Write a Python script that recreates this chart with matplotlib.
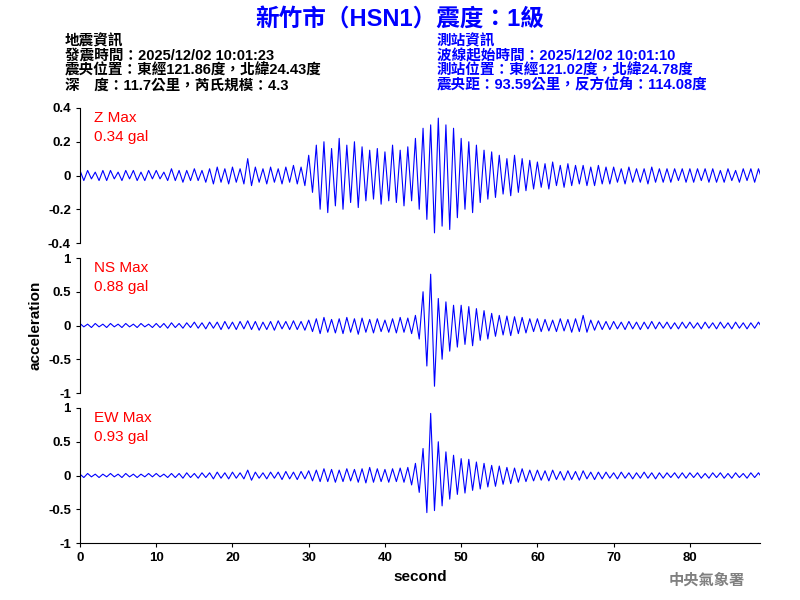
import numpy as np
import matplotlib.pyplot as plt
from matplotlib.ticker import FuncFormatter

plt.rcParams['font.family'] = ['Liberation Sans', 'Noto Sans CJK TC', 'DejaVu Sans']

# 每秒的正/负峰值
z_pos = [.03,.03,.02,.03,.03,.02,.03,.03,.02,.03, .03,.02,.04,.03,.03,.04,.03,.04,.05,.04,
         .05,.04,.10,.05,.04,.05,.04,.05,.06,.05, .12,.18,.20,.16,.22,.18,.20,.17,.15,.16,
         .14,.18,.15,.17,.22,.28,.30,.34,.30,.28, .22,.20,.18,.15,.14,.12,.10,.12,.10,.09,
         .08,.07,.08,.06,.07,.06,.06,.05,.06,.05, .05,.04,.05,.04,.04,.05,.04,.04,.04,.04,
         .04,.04,.04,.04,.03,.04,.03,.04,.04,.04]
z_neg = [.03,.02,.03,.03,.02,.03,.02,.03,.03,.02, .02,.03,.03,.04,.03,.03,.04,.05,.04,.05,
         .04,.05,.06,.04,.05,.04,.05,.04,.05,.06, .10,.20,.22,.18,.20,.16,.19,.15,.14,.17,
         .15,.16,.18,.15,.20,.26,.34,.30,.32,.25, .20,.22,.16,.14,.13,.11,.12,.10,.09,.08,
         .07,.08,.06,.07,.06,.05,.06,.06,.05,.05, .04,.05,.04,.04,.05,.04,.04,.04,.03,.04,
         .04,.03,.04,.04,.04,.03,.04,.03,.04,.03]
ns_pos = [.03,.02,.03,.02,.03,.02,.03,.02,.03,.02, .03,.03,.04,.03,.04,.05,.04,.05,.05,.06,
          .05,.06,.07,.06,.05,.06,.07,.06,.07,.06, .08,.10,.12,.09,.10,.12,.10,.11,.09,.10,
          .08,.10,.12,.11,.15,.50,.76,.40,.35,.30, .30,.28,.25,.22,.18,.15,.14,.13,.12,.10,
          .10,.09,.08,.10,.09,.10,.15,.08,.07,.06, .06,.05,.06,.05,.05,.06,.05,.05,.04,.05,
          .05,.04,.05,.04,.05,.04,.05,.04,.04,.05]
ns_neg = [.02,.03,.02,.03,.02,.03,.02,.03,.02,.03, .03,.04,.03,.04,.03,.04,.05,.04,.06,.05,
          .06,.05,.06,.07,.06,.07,.05,.06,.06,.07, .09,.12,.10,.11,.12,.10,.13,.10,.11,.09,
          .10,.11,.10,.12,.20,.60,.90,.50,.38,.32, .28,.30,.22,.20,.16,.14,.15,.12,.11,.09,
          .09,.08,.09,.08,.10,.09,.10,.07,.06,.06, .05,.06,.05,.06,.05,.05,.04,.05,.05,.04,
          .04,.05,.04,.05,.04,.05,.04,.05,.04,.04]
ew_pos = [.02,.03,.02,.02,.03,.02,.03,.02,.02,.03, .03,.02,.03,.03,.04,.03,.04,.04,.05,.04,
          .05,.04,.08,.05,.04,.05,.05,.06,.05,.06, .07,.08,.10,.09,.08,.10,.09,.10,.12,.10,
          .09,.10,.11,.12,.18,.40,.92,.50,.35,.30, .25,.24,.20,.18,.15,.14,.12,.11,.10,.08,
          .08,.07,.08,.06,.07,.06,.07,.05,.05,.05, .04,.05,.04,.04,.05,.04,.04,.04,.04,.04,
          .04,.04,.03,.04,.04,.03,.04,.03,.04,.04]
ew_neg = [.03,.02,.03,.02,.02,.03,.02,.03,.02,.02, .02,.03,.03,.04,.03,.04,.03,.05,.04,.05,
          .04,.05,.07,.04,.05,.04,.06,.05,.06,.05, .08,.09,.09,.10,.09,.08,.10,.11,.10,.09,
          .10,.09,.10,.14,.25,.55,.52,.45,.35,.28, .26,.22,.20,.17,.16,.13,.12,.10,.09,.08,
          .07,.08,.06,.07,.06,.07,.05,.06,.05,.04, .05,.04,.05,.04,.04,.05,.04,.03,.04,.04,
          .03,.04,.04,.03,.04,.04,.03,.04,.03,.04]

channels = [("Z", z_pos, z_neg, "0.34 gal", 0.4, [0.4, 0.2, 0, -0.2, -0.4]),
            ("NS", ns_pos, ns_neg, "0.88 gal", 1, [1, 0.5, 0, -0.5, -1]),
            ("EW", ew_pos, ew_neg, "0.93 gal", 1, [1, 0.5, 0, -0.5, -1])]

fig = plt.figure(figsize=(8, 6), dpi=100)
fmt = FuncFormatter(lambda v, p: ("%g" % v))
axes = []
for i, (name, pos, neg, maxtxt, lim, ticks) in enumerate(channels):
    bottom = 1 - (108 + i * 150 + 135) / 600
    ax = fig.add_axes([80 / 800, bottom, 680 / 800, 135 / 600])
    t, y = [], []
    for k in range(len(pos)):
        t += [k, k + 0.5]
        y += [pos[k], -neg[k]]
    ax.plot(t, y, color='blue', lw=0.8)
    ax.set_ylim(-lim, lim)
    ax.set_xlim(0, 89.2)
    ax.set_yticks(ticks)
    ax.yaxis.set_major_formatter(fmt)
    ax.tick_params(labelsize=9.5, direction='out', length=3)
    for lab in ax.get_yticklabels():
        lab.set_fontweight('bold')
    for s in ['top', 'right']:
        ax.spines[s].set_visible(False)
    if i < 2:
        ax.spines['bottom'].set_visible(False)
        ax.set_xticks([])
    ax.text(0.02, 0.98, name + " Max\n" + maxtxt, transform=ax.transAxes, color='red',
            fontsize=11, va='top', ha='left', linespacing=1.5)
    axes.append(ax)

axes[2].set_xticks(range(0, 90, 10))
for lab in axes[2].get_xticklabels():
    lab.set_fontweight('bold')
axes[2].set_xlabel("second", fontsize=11, fontweight='bold')
axes[1].set_ylabel("acceleration", fontsize=11, fontweight='bold')

fig.text(0.5, 0.968, "新竹市（HSN1）震度：1級", color='blue', fontsize=17,
         fontweight='bold', ha='center', va='center')
left = "地震資訊\n發震時間：2025/12/02 10:01:23\n震央位置：東經121.86度，北緯24.43度\n深　度：11.7公里，芮氏規模：4.3"
right = "測站資訊\n波線起始時間：2025/12/02 10:01:10\n測站位置：東經121.02度，北緯24.78度\n震央距：93.59公里，反方位角：114.08度"
fig.text(65 / 800, 1 - 34 / 600, left, fontsize=10.5, fontweight='bold', va='top', linespacing=1.05)
fig.text(437 / 800, 1 - 34 / 600, right, fontsize=10.5, fontweight='bold', va='top',
         color='blue', linespacing=1.05)
fig.text(745 / 800, 1 - 580 / 600, "中央氣象署", fontsize=11, color='gray',
         fontweight='bold', ha='right', va='center')

fig.savefig("out.png", dpi=100)
